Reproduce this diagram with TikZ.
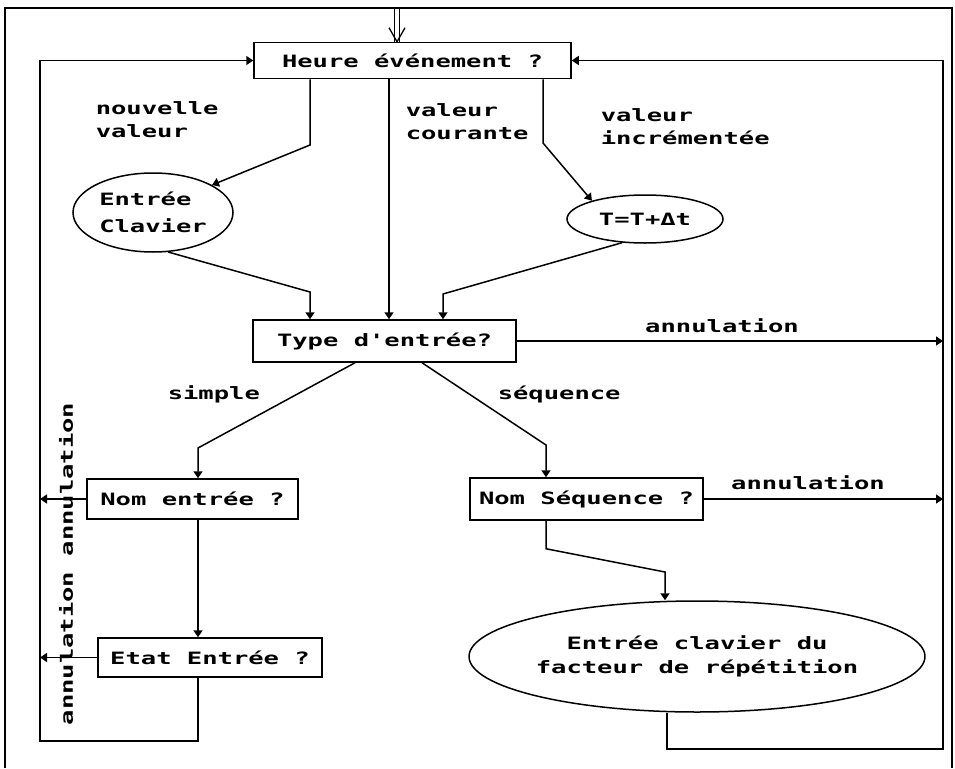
\documentclass[tikz,border=0pt]{standalone}
\usepackage{fontspec}
\newfontfamily\pix{DejaVu Sans Mono Bold}[FakeStretch=1.5]
\usetikzlibrary{arrows.meta,shapes.geometric}
\begin{document}
\begin{tikzpicture}[x=1pt,y=-1pt,
  font=\pix\fontsize{17}{23}\selectfont,
  line width=1.5pt,
  >={Triangle[length=7pt,width=9pt]},
  box/.style={draw,rectangle,inner sep=0pt},
  ell/.style={draw,ellipse,inner sep=0pt},
  lbl/.style={inner sep=0pt,align=left}]
\useasboundingbox (0,0) rectangle (955,768);
% frame
\draw (5,768) -- (5,8) -- (952,8) -- (952,768);
% helper coordinates
\coordinate (xL) at (40,0);
\coordinate (xR) at (943,0);
\coordinate (xA) at (198,0);
\coordinate (entry) at (397,8);
% nodes
\node[box,minimum width=317pt,minimum height=36pt] (heure) at (412.5,60.5) {Heure événement ?};
\node[ell,minimum width=160pt,minimum height=79pt,align=left,font=\pix\fontsize{17}{27}\selectfont] (ecl) at (153,212.5) {Entrée\\Clavier};
\node[ell,minimum width=156pt,minimum height=48pt] (tinc) at (645,219) {T=T+Δt};
\node[box,minimum width=263pt,minimum height=42pt] (type) at (384.5,341) {Type d'entrée?};
\node[box,minimum width=211pt,minimum height=40pt] (nom) at (192.5,499) {Nom entrée ?};
\node[box,minimum width=224pt,minimum height=39pt] (etat) at (210,657.5) {Etat Entrée ?};
\node[box,minimum width=233pt,minimum height=42pt] (seq) at (586.5,499) {Nom Séquence ?};
\node[ell,minimum width=392pt,minimum height=111pt,align=center,font=\pix\fontsize{17}{24}\selectfont] (fac) at (697,656.5) {Entrée clavier du\\facteur de répétition};
% labels
\node[lbl,anchor=west] (l1) at (95,119.5) {nouvelle\\valeur};
\node[lbl,anchor=west] (l2) at (405,121.5) {valeur\\courante};
\node[lbl,anchor=west] (l3) at (600,126.5) {valeur\\incrémentée};
\node[lbl,anchor=west] (l4) at (167,394) {simple};
\node[lbl,anchor=west] (l5) at (497,394) {séquence};
\node[lbl] (l6) at (722,326) {annulation};
\node[lbl] (l7) at (808,483) {annulation};
\node[lbl,rotate=90] (l8) at (66,564) {annulation annulation};
% entry double arrow
\coordinate (etop) at (entry |- heure.north);
\draw[line width=1.3pt] ([xshift=-2.5pt]entry) -- ([xshift=-2.5pt]etop);
\draw[line width=1.3pt] ([xshift=2.5pt]entry) -- ([xshift=2.5pt]etop);
\draw[line width=1.3pt] ([xshift=-8pt,yshift=14pt]etop) -- (etop) -- ([xshift=8pt,yshift=14pt]etop);
% from heure
\draw[->] ([xshift=-102.5pt]heure.south) -- (310,145) -- (ecl.25);
\draw[->] ([xshift=-23.5pt]heure.south) -- ([xshift=4.5pt]type.north);
\draw[->] ([xshift=130.5pt]heure.south) -- (543,143) -- (tinc.161);
% into type
\draw[->] (ecl.-69) -- (310,292) -- ([xshift=-74.5pt]type.north);
\draw[->] (tinc.-134) -- (443,294) -- ([xshift=58.5pt]type.north);
% from type
\draw[->] (type.east) -- (type.east -| xR);
\draw[->] ([xshift=-29.5pt]type.south) -- (198,448) -- (nom.north -| xA);
\draw[->] ([xshift=37.5pt]type.south) -- (546,445) -- ([xshift=-40.5pt]seq.north);
% left branch
\draw[->] (nom.west) -- (nom.west -| xL);
\draw[->] (nom.south -| xA) -- (etat.north -| xA);
\draw[->] (etat.west) -- (etat.west -| xL);
\draw[->] (etat.south -| xA) -- ++(0,63) -| (xL |- heure.west) -- (heure.west);
% right branch
\draw[->] (seq.east) -- (seq.east -| xR);
\draw[->] ([xshift=-40.5pt]seq.south) -- ++(0,28) -- (665,572) -- ([xshift=-32pt]fac.north);
\draw[->] ([xshift=-30pt]fac.south) -- ++(0,36) -| (xR |- heure.east) -- (heure.east);
\end{tikzpicture}
\end{document}
